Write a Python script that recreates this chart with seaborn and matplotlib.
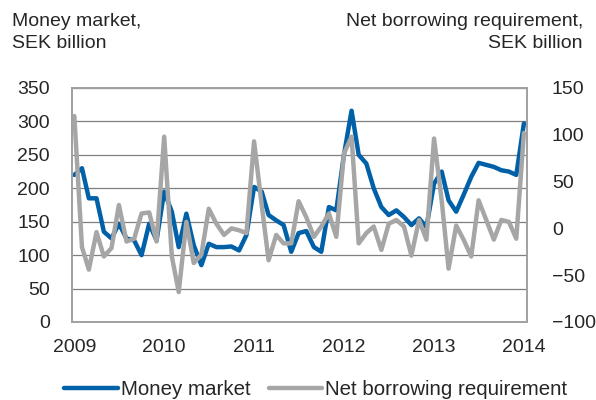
import pandas as pd
import numpy as np
import seaborn as sns
import matplotlib.pyplot as plt

# monthly observations, Jan 2009 - Jan 2014
months = pd.date_range('2009-01-01', periods=61, freq='MS')

money_market = [220, 230, 185, 185, 135, 125, 147, 125, 122, 100, 147, 122,
                195, 165, 112, 162, 115, 85, 117, 112, 112, 113, 107, 130,
                202, 195, 160, 152, 145, 105, 133, 136, 112, 105, 172, 167,
                250, 316, 250, 237, 200, 172, 160, 167, 157, 145, 155, 142,
                207, 225, 182, 165, 190, 217, 238, 235, 232, 227, 225, 220,
                297]

net_borrowing = [120, -20, -44, -4, -30, -21, 25, -14, -11, 16, 17, -14,
                 98, -30, -68, 7, -37, -28, 21, 5, -7, 0, -2, -5,
                 93, 25, -34, -7, -16, -16, 29, 12, -9, 2, 16, -9,
                 80, 98, -16, -5, 2, -23, 5, 9, 2, -29, 9, -12,
                 96, 30, -43, 3, -12, -30, 30, 9, -12, 9, 7, -11,
                 102]

year_ticks = pd.date_range('2009-01-01', '2014-01-01', freq='YS')
year_labels = ['2009', '2010', '2011', '2012', '2013', '2014']

df = pd.DataFrame({'date': months, 'mm': money_market, 'nbr': net_borrowing})

sns.set_style('white')
plt.rcParams['font.family'] = ['Liberation Sans', 'DejaVu Sans']

blue = '#0061A8'
grey = '#A6A6A6'
fs = 14

fig = plt.figure(figsize=(5.96, 4.0), dpi=100)
ax = fig.add_axes([0.121, 0.195, 0.763, 0.585])
ax2 = ax.twinx()

sns.lineplot(data=df, x='date', y='mm', ax=ax, color=blue, linewidth=3.2,
             label='Money market', legend=False)
sns.lineplot(data=df, x='date', y='nbr', ax=ax2, color=grey, linewidth=3.2,
             label='Net borrowing requirement', legend=False)

ax.set_ylim(0, 350)
ax.set_yticks(np.arange(0, 351, 50))
ax2.set_ylim(-100, 150)
ax2.set_yticks(np.arange(-100, 151, 50))

ax.set_xlim(pd.Timestamp('2008-12-23'), pd.Timestamp('2014-01-13'))
ax.set_xticks(year_ticks)
ax.set_xticklabels(year_labels)

ax.yaxis.grid(True, color='#7F7F7F', linewidth=0.9)
ax.xaxis.grid(False)
ax.set_axisbelow(True)

for a in (ax, ax2):
    a.set_xlabel('')
    a.set_ylabel('')
    for s in a.spines.values():
        s.set_color('#A0A0A0')
        s.set_linewidth(1.2)

ax.tick_params(axis='y', length=0, pad=16, labelsize=fs)
ax.tick_params(axis='x', length=0, pad=12, labelsize=fs)
ax2.tick_params(axis='y', length=0, pad=18, labelsize=fs)

fig.text(0.02, 0.968, 'Money market,\nSEK billion', ha='left', va='top',
         fontsize=fs, linespacing=1.38)
fig.text(0.978, 0.968, 'Net borrowing requirement,\nSEK billion', ha='right',
         va='top', fontsize=fs, linespacing=1.38, multialignment='right')

h1, l1 = ax.get_legend_handles_labels()
h2, l2 = ax2.get_legend_handles_labels()
fig.legend(h1 + h2, l1 + l2, loc='center', bbox_to_anchor=(0.53, 0.027),
           ncol=2, frameon=False, fontsize=14.8, handlelength=2.6,
           handletextpad=0.15, columnspacing=0.9)

fig.savefig('out.png', dpi=100)
